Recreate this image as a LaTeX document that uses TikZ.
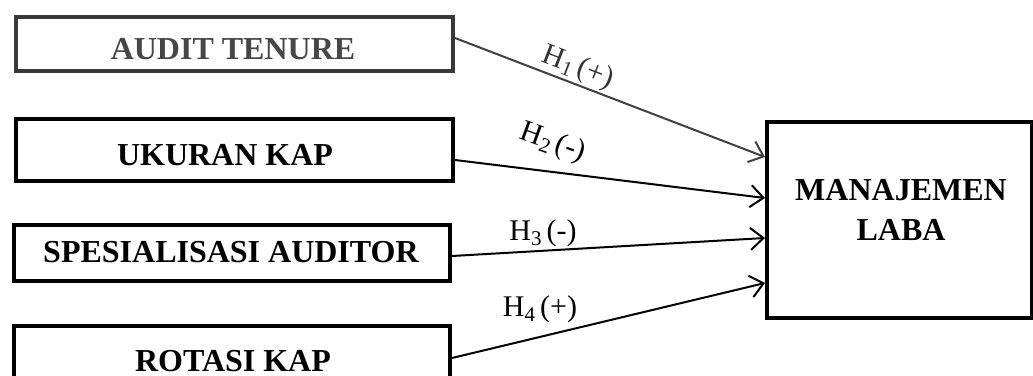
\documentclass[tikz,border=0pt]{standalone}
\usepackage{fontspec}
\setmainfont{Liberation Serif}
\usetikzlibrary{arrows.meta}
\newcommand{\hlab}[2]{H\raisebox{-0.16em}{\fontsize{21}{21}\selectfont #1}\,(#2)}
\begin{document}
\begin{tikzpicture}[x=1pt,y=-1pt,
  box/.style={draw, line width=4pt, minimum width=437pt, inner sep=0pt},
  boxtext/.style={font=\fontsize{32}{36}\selectfont\bfseries, inner sep=0pt},
  lab/.style={font=\fontsize{30}{32}\selectfont, inner sep=0pt},
  conn/.style={line width=2pt, -{Straight Barb[length=13pt,width=22pt,line width=2pt]}}]
\useasboundingbox (0,0) rectangle (1033,375);
% source boxes
\node[box, draw=black!78, minimum height=54pt] (b1) at (234.5,44) {};
\node[box, minimum height=62pt] (b2) at (234.5,150) {};
\node[box, minimum height=56pt, minimum width=436pt] (b3) at (232,253) {};
\node[box, minimum height=66pt, minimum width=436pt] (b4) at (232,359) {};
\node[boxtext, text=black!72] (t1) at (233,49) {AUDIT TENURE};
\node[boxtext] (t2) at (225,155) {UKURAN KAP};
\node[boxtext] (t3) at (231,252) {SPESIALISASI AUDITOR};
\node[boxtext] (t4) at (233,361) {ROTASI KAP};
% target box
\node[box, minimum width=265pt, minimum height=196pt] (ml) at (899.5,220) {};
\node[boxtext, font=\fontsize{32}{40}\selectfont\bfseries, align=center] (mlt) at (901,210) {MANAJEMEN\\LABA};
% connectors
\draw[conn, draw=black!75] ([yshift=6pt]b1.east) -- ([yshift=63pt]ml.west);
\draw[conn] ([yshift=-10pt]b2.east) -- ([yshift=22pt]ml.west);
\draw[conn] ([yshift=-3pt]b3.east) -- ([yshift=-18pt]ml.west);
\draw[conn] ([yshift=1pt]b4.east) -- ([yshift=-63pt]ml.west);
% labels
\node[lab, rotate=-21, text=black!80] (h1) at (578,68) {\hlab{1}{+}};
\node[lab, rotate=-20] (h2) at (553,143) {\hlab{2}{-}};
\node[lab] (h3) at (543,233) {\hlab{3}{-}};
\node[lab] (h4) at (540,309) {\hlab{4}{+}};
\end{tikzpicture}
\end{document}
